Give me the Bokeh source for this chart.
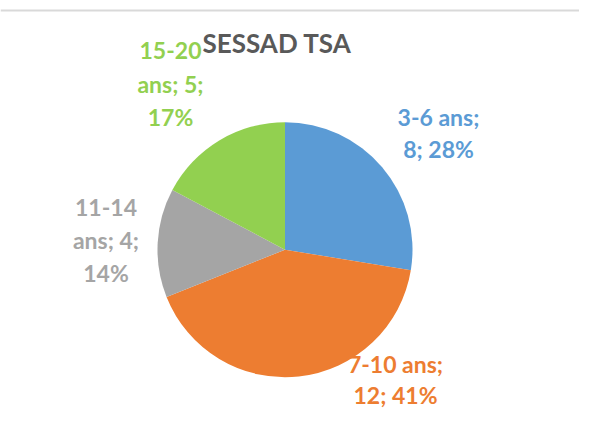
import math
import textwrap
from bokeh.plotting import figure
from bokeh.models import Range1d, ColumnDataSource, Span
from bokeh.core.properties import value
from bokeh.embed import file_html
from bokeh.resources import INLINE

# ---- data ----
title = "SESSAD TSA"
categories = ["3-6 ans", "7-10 ans", "11-14 ans", "15-20 ans"]
counts = [8, 12, 4, 5]
colors = ["#5B9BD5", "#ED7D31", "#A5A5A5", "#92D050"]

# ---- layout (pixel coordinates, origin top-left of the figure) ----
W, H = 579, 409
def yu(y_screen):        # screen y -> data y (up)
    return H - y_screen

TEXT_DY = -10.0          # compensation for the renderer's baseline placement
cx, cy, r = 284.5, yu(249.2), 127.5
label_wrap = [9, 9, 7, 7]
label_x = [438.0, 395.0, 105.5, 170.0]
label_first_baseline = [126.8, 373.0, 216.7, 60.0]
label_step = [31.5, 31.0, 33.0, 33.0]

p = figure(width=W, height=H, output_backend="svg", toolbar_location=None,
           x_range=Range1d(0, W), y_range=Range1d(0, H),
           x_axis_type=None, y_axis_type=None, min_border=0,
           background_fill_color="white", border_fill_color="white")
p.outline_line_color = None
p.grid.visible = False

# top border line of chart area
p.add_layout(Span(location=yu(10), dimension="width", line_color="#D9D9D9", line_width=2))

total = sum(counts)
starts, ends = [], []
acc = 0.0
for c in counts:
    a0 = math.pi / 2 - 2 * math.pi * acc / total
    acc += c
    a1 = math.pi / 2 - 2 * math.pi * acc / total
    starts.append(a0)
    ends.append(a1)

src = ColumnDataSource(dict(x=[cx] * len(counts), y=[cy] * len(counts),
                            start=starts, end=ends, color=colors))
p.wedge(x="x", y="y", radius=r, start_angle="start", end_angle="end",
        direction="clock", fill_color="color", line_color=None, source=src)

# data labels
lx, ly, lt, lc = [], [], [], []
for i, (cat, n) in enumerate(zip(categories, counts)):
    pct = round(100 * n / total)
    full = f"{cat}; {n}; {pct}%"
    lines = textwrap.wrap(full, width=label_wrap[i])
    for k, line in enumerate(lines):
        lx.append(label_x[i])
        ly.append(yu(label_first_baseline[i] + k * label_step[i] + TEXT_DY))
        lt.append(line)
        lc.append(colors[i])

p.text(x=lx, y=ly, text=lt, text_color=lc, text_font=value("Lato"),
       text_font_style="bold", text_font_size="23px",
       text_align="center", text_baseline="alphabetic")

# title
p.text(x=[276.5], y=[yu(52.7 + TEXT_DY)], text=[title], text_color="#595959",
       text_font=value("Lato"), text_font_style="bold", text_font_size="26px",
       text_align="center", text_baseline="alphabetic")

open("out.html", "w").write(file_html(p, INLINE))
